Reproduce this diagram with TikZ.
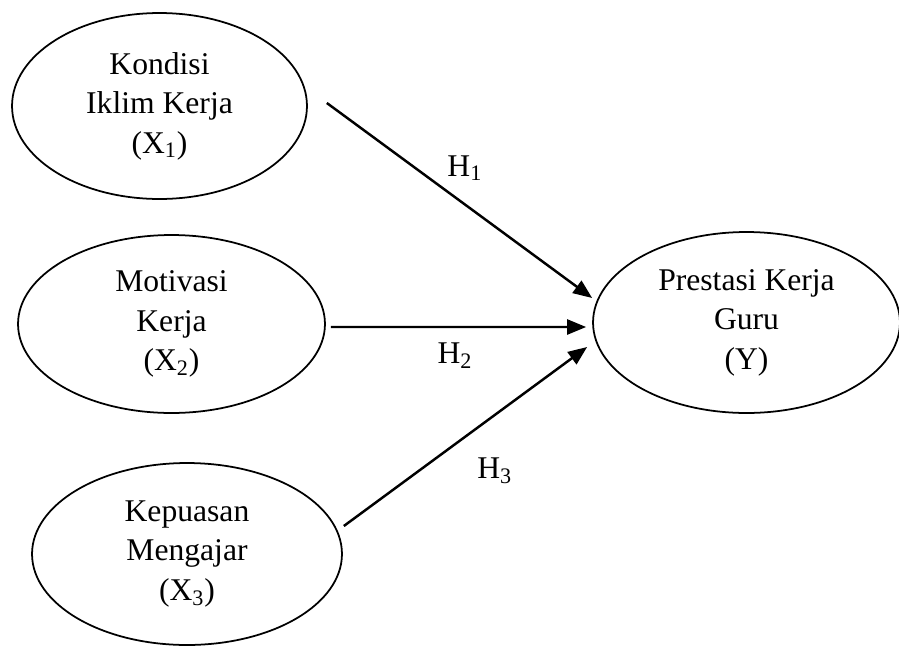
\documentclass[tikz,border=0pt]{standalone}
\usepackage{fontspec}
\setmainfont{Liberation Serif}
\usetikzlibrary{shapes.geometric,arrows.meta,calc}

\begin{document}
\begin{tikzpicture}[x=0.02cm, y=-0.02cm, font=\fontsize{18}{22.5}\selectfont,
    var/.style = {draw, ellipse, line width=1pt, align=center, inner sep=0pt},
    arr/.style = {-{Triangle[length=0.38cm, width=0.3cm]}, line width=1.4pt}]
        \useasboundingbox (0,0) rectangle (899,646);

        \node[var, minimum width=5.9cm, minimum height=3.72cm] (n_1) at (159.5,106) {Kondisi\\Iklim Kerja\\(X\textsubscript{1})};
        \node[var, minimum width=6.14cm, minimum height=3.56cm] (n_2) at (171.5,324) {Motivasi\\Kerja\\(X\textsubscript{2})};
        \node[var, minimum width=6.2cm, minimum height=3.64cm] (n_3) at (187,554) {Kepuasan\\Mengajar\\(X\textsubscript{3})};
        \node[var, minimum width=6.14cm, minimum height=3.62cm] (n_4) at (746.5,322.5) {Prestasi Kerja\\Guru\\(Y)};

        \draw[arr] ($(n_1.east)+(19,-3)$) -- node[pos=0.52, above=0.33cm] {H\textsubscript{1}} ($(n_4.west)+(0,-24.5)$);
        \draw[arr] ($(n_2.east)+(5,3)$) -- node[pos=0.486, below=0.18cm] {H\textsubscript{2}} ($(n_4.west)+(-6,4.5)$);
        \draw[arr] ($(n_3.east)+(1,-28)$) -- node[pos=0.62, below=0.72cm] {H\textsubscript{3}} ($(n_4.west)+(-5,24.5)$);
\end{tikzpicture}
\end{document}
